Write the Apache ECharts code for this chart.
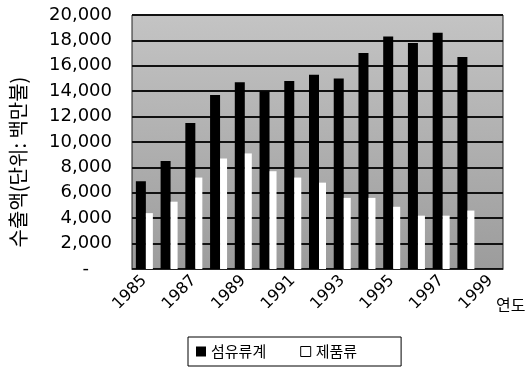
<!DOCTYPE html>
<html>
<head>
<meta charset="utf-8">
<script src="https://cdn.jsdelivr.net/npm/echarts@6/dist/echarts.min.js"></script>
<style>
  html, body { margin: 0; padding: 0; background: #fff; }
  #chart { width: 529px; height: 369px; }
</style>
</head>
<body>
<div id="chart"></div>
<script>
// 연도별 수출액 (단위: 백만불)
const years = ['1985','1986','1987','1988','1989','1990','1991','1992','1993','1994','1995','1996','1997','1998','1999'];
const textileTotal = [6900, 8500, 11500, 13700, 14700, 14000, 14800, 15300, 15000, 17000, 18300, 17800, 18600, 16700, null];
const products = [4400, 5300, 7200, 8700, 9100, 7700, 7200, 6800, 5600, 5600, 4900, 4200, 4200, 4600, null];
const seriesNames = ['섬유류계', '제품류'];
const yAxisTitle = '수출액(단위: 백만불)';
const xAxisTitle = '연도';

const numFont = 'DejaVu Sans';
const krFont = 'Noto Sans CJK KR';

const chart = echarts.init(document.getElementById('chart'), null, { renderer: 'canvas' });

chart.setOption({
  animation: false,
  backgroundColor: '#fff',
  grid: {
    left: 132, right: 26, top: 15, bottom: 100,
    outerBoundsMode: 'none',
    containLabel: false,
    show: true,
    borderColor: '#222',
    borderWidth: 1,
    backgroundColor: {
      type: 'linear', x: 0, y: 0, x2: 0, y2: 1,
      colorStops: [
        { offset: 0, color: '#c4c4c4' },
        { offset: 1, color: '#9c9c9c' }
      ]
    }
  },
  legend: {
    left: 188,
    top: 337,
    padding: [7, 44, 7, 8],
    borderColor: '#000',
    borderWidth: 1,
    itemWidth: 10,
    itemHeight: 10,
    itemGap: 34,
    icon: 'rect',
    textStyle: { fontFamily: krFont, fontSize: 15, color: '#000' },
    data: [
      { name: seriesNames[0] },
      { name: seriesNames[1], itemStyle: { color: '#fff', borderColor: '#000', borderWidth: 1 } }
    ]
  },
  graphic: [
    {
      type: 'text',
      left: 496,
      top: 297,
      style: { text: xAxisTitle, font: '16px "' + krFont + '"', fill: '#000' }
    }
  ],
  xAxis: {
    type: 'category',
    data: years,
    axisLine: { show: true, lineStyle: { color: '#222', width: 1 } },
    axisTick: { show: false },
    axisLabel: {
      interval: 1,
      rotate: 45,
      margin: 9,
      fontFamily: numFont,
      fontSize: 16,
      color: '#000'
    },
    splitLine: { show: false }
  },
  yAxis: {
    type: 'value',
    min: 0,
    max: 20000,
    interval: 2000,
    name: yAxisTitle,
    nameLocation: 'middle',
    nameGap: 104,
    nameTextStyle: {
      fontFamily: krFont, fontSize: 20, color: '#000',
      padding: [0, 40, 0, 0]
    },
    axisLine: { show: false },
    axisTick: { show: false },
    axisLabel: {
      margin: 20,
      fontFamily: numFont,
      fontSize: 18,
      color: '#000',
      formatter: function (v) {
        if (v === 0) return '-\u00a0\u00a0\u00a0\u00a0';
        return v.toLocaleString('en-US');
      }
    },
    splitLine: { show: true, lineStyle: { color: '#111', width: 2 } }
  },
  series: [
    {
      name: seriesNames[0],
      type: 'bar',
      data: textileTotal,
      barWidth: 10,
      barGap: '0%',
      itemStyle: { color: '#000' }
    },
    {
      name: seriesNames[1],
      type: 'bar',
      data: products,
      barWidth: 7,
      barGap: '0%',
      itemStyle: { color: '#fff' }
    }
  ]
});
</script>
</body>
</html>
